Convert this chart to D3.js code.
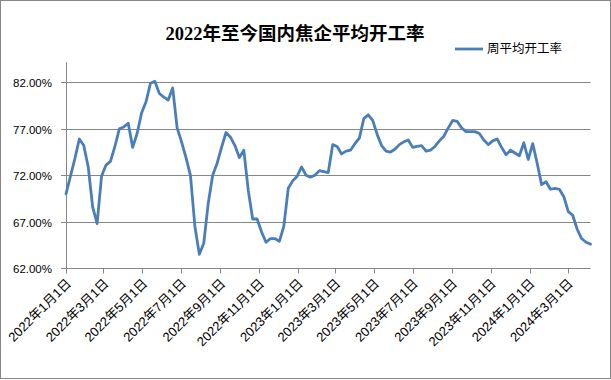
<!DOCTYPE html>
<html>
<head>
<meta charset="utf-8">
<script src="https://cdn.jsdelivr.net/npm/d3@7"></script>
<style>
  body { margin: 0; background: #fff; }
  svg { display: block; }
</style>
</head>
<body>
<script>
// weekly average operating rate of coking plants, from 2022-01-01, one value per week (%)
var startDate = '2022-01-01';
var seriesName = '周平均开工率';
var rates = [
  70.0, 71.9, 73.8, 75.9, 75.2, 72.9, 68.6, 66.8, 71.9, 73.1,
  73.5, 75.1, 77.0, 77.2, 77.6, 75.0, 76.5, 78.7, 79.9, 81.9,
  82.1, 80.8, 80.4, 80.1, 81.4, 77.1, 75.6, 73.9, 72.0, 66.5,
  63.5, 64.7, 69.0, 72.0, 73.3, 75.0, 76.6, 76.1, 75.2, 73.9,
  74.7, 70.4, 67.3, 67.3, 65.9, 64.8, 65.2, 65.2, 64.9, 66.5,
  70.6, 71.4, 71.9, 72.9, 72.0, 71.8, 72.0, 72.5, 72.4, 72.3,
  75.3, 75.1, 74.3, 74.6, 74.7, 75.4, 76.0, 78.1, 78.5, 77.9,
  76.4, 75.2, 74.6, 74.5, 74.8, 75.3, 75.6, 75.8, 75.0, 75.1,
  75.2, 74.6, 74.7, 75.1, 75.7, 76.2, 77.1, 77.9, 77.8, 77.1,
  76.7, 76.7, 76.7, 76.5, 75.8, 75.3, 75.7, 75.9, 75.0, 74.2,
  74.7, 74.4, 74.1, 75.5, 73.7, 75.4, 73.3, 71.0, 71.3, 70.5,
  70.6, 70.5, 69.7, 68.1, 67.7, 66.2, 65.2, 64.8, 64.6
];
var yTicks = [62, 67, 72, 77, 82];
var xTickStart = '2022-01-01';
var xTickEnd = '2024-03-01';

var width = 611, height = 380;
var plot = { left: 66, right: 590.5, top: 82.3, bottom: 268.3 };
var lineColor = '#4a7ebb';
var gridColor = '#868686';

var svg = d3.select('body').append('svg')
  .attr('width', width)
  .attr('height', height);

// chart frame
svg.append('rect')
  .attr('x', 0.5).attr('y', 0.5)
  .attr('width', width - 1).attr('height', height - 2)
  .attr('fill', '#fff')
  .attr('stroke', gridColor);

var t0 = new Date(startDate + 'T00:00:00Z');
var data = rates.map(function (v, i) {
  return { date: d3.utcDay.offset(t0, 7 * i), value: v };
});

var x = d3.scaleUtc()
  .domain([t0, data[data.length - 1].date])
  .range([plot.left, plot.right]);

var y = d3.scaleLinear()
  .domain([62, 82])
  .range([plot.bottom, plot.top]);

// horizontal gridlines + y tick labels
svg.append('g').selectAll('line').data(yTicks).enter().append('line')
  .attr('x1', plot.left - 5).attr('x2', plot.right)
  .attr('y1', function (d) { return Math.round(y(d)) + 0.5; })
  .attr('y2', function (d) { return Math.round(y(d)) + 0.5; })
  .attr('stroke', gridColor).attr('stroke-width', 1);

svg.append('g').selectAll('text').data(yTicks).enter().append('text')
  .attr('x', 52)
  .attr('y', function (d) { return Math.round(y(d)) + 0.5; })
  .attr('dy', '0.35em')
  .attr('text-anchor', 'end')
  .attr('font-family', 'Liberation Sans, Arial, sans-serif')
  .attr('font-size', 11.5)
  .attr('fill', '#000')
  .text(function (d) { return d3.format('.2f')(d) + '%'; });

// y axis line
svg.append('line')
  .attr('x1', plot.left + 0.5).attr('x2', plot.left + 0.5)
  .attr('y1', plot.top - 20).attr('y2', plot.bottom)
  .attr('stroke', gridColor);

// x axis ticks every 2 months
var xTicks = d3.utcMonth.every(2).range(
  new Date(xTickStart + 'T00:00:00Z'),
  d3.utcDay.offset(new Date(xTickEnd + 'T00:00:00Z'), 1));

var xAxisEl = svg.append('g');
xAxisEl.selectAll('line').data(xTicks).enter().append('line')
  .attr('x1', function (d) { return Math.round(x(d)) + 0.5; })
  .attr('x2', function (d) { return Math.round(x(d)) + 0.5; })
  .attr('y1', Math.round(plot.bottom) + 0.5)
  .attr('y2', Math.round(plot.bottom) + 5.5)
  .attr('stroke', gridColor);

xAxisEl.selectAll('text').data(xTicks).enter().append('text')
  .attr('transform', function (d) {
    return 'translate(' + (x(d) + 6) + ',' + (plot.bottom + 16) + ') rotate(-45)';
  })
  .attr('text-anchor', 'end')
  .attr('font-family', 'Liberation Sans, Noto Sans CJK SC, sans-serif')
  .attr('font-size', 13)
  .attr('fill', '#000')
  .text(function (d) {
    return d.getUTCFullYear() + '年' + (d.getUTCMonth() + 1) + '月' + d.getUTCDate() + '日';
  });

// the series
var line = d3.line()
  .x(function (d) { return x(d.date); })
  .y(function (d) { return y(d.value); });

svg.append('path')
  .datum(data)
  .attr('d', line)
  .attr('fill', 'none')
  .attr('stroke', lineColor)
  .attr('stroke-width', 2.8)
  .attr('stroke-linejoin', 'round')
  .attr('stroke-linecap', 'round');

// title
svg.append('text')
  .attr('x', 295).attr('y', 40)
  .attr('text-anchor', 'middle')
  .attr('font-family', 'Liberation Serif, Noto Sans CJK SC, serif')
  .attr('font-weight', 'bold')
  .attr('font-size', 18.5)
  .attr('fill', '#000')
  .text('2022年至今国内焦企平均开工率');

// legend
svg.append('line')
  .attr('x1', 455).attr('x2', 483)
  .attr('y1', 49).attr('y2', 49)
  .attr('stroke', lineColor).attr('stroke-width', 2.8);
svg.append('text')
  .attr('x', 487).attr('y', 49)
  .attr('dy', '0.35em')
  .attr('font-family', 'Noto Sans CJK SC, sans-serif')
  .attr('font-size', 12.5)
  .attr('fill', '#000')
  .text(seriesName);
</script>
</body>
</html>
